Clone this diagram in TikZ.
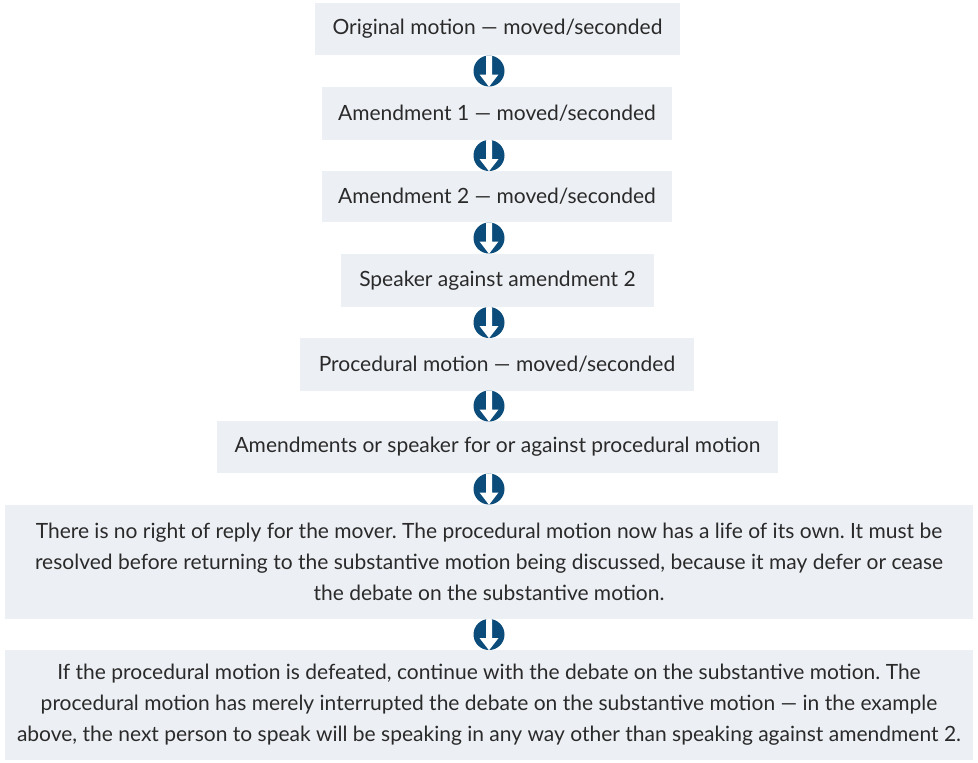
\documentclass[tikz,border=0pt]{standalone}
\usepackage{fontspec}
\setmainfont{Lato}
\usetikzlibrary{calc}
\definecolor{boxfill}{HTML}{ECEFF4}
\definecolor{iconblue}{HTML}{0B4C7A}
\definecolor{txt}{HTML}{2A2A2A}
\frenchspacing
\tikzset{
  stepbox/.style={fill=boxfill, draw=none, inner sep=0pt, text=txt, align=center,
    font=\fontsize{21}{31}\selectfont},
  downicon/.pic={
    \fill[iconblue] (0,0) circle (15.5);
    \begin{scope}
      \clip (0,0) circle (15.5);
      \fill[white] (-3,-17) -- (3,-17) -- (3,3.5) -- (9.5,3.5) -- (0,15.8) -- (-9.5,3.5) -- (-3,3.5) -- cycle;
    \end{scope}
  }
}
\begin{document}
\begin{tikzpicture}[x=1pt,y=-1pt]
\useasboundingbox (0,0) rectangle (978,763);
\coordinate (axis) at (489,0);
\node[stepbox, minimum width=365, minimum height=52] (b1) at (497.5,29) {Original motion — moved/seconded};
\node[stepbox, minimum width=350, minimum height=53] (b2) at (497,113.5) {Amendment 1 — moved/seconded};
\node[stepbox, minimum width=350, minimum height=51] (b3) at (497,196.5) {Amendment 2 — moved/seconded};
\node[stepbox, minimum width=313, minimum height=53] (b4) at (497.5,280.5) {Speaker against amendment 2};
\node[stepbox, minimum width=394, minimum height=53] (b5) at (497,364.5) {Procedural motion — moved/seconded};
\node[stepbox, minimum width=561, minimum height=52] (b6) at (497.5,447) {Amendments or speaker for or against procedural motion};
\node[stepbox, minimum width=968, minimum height=114] (b7) at (489,562) {There is no right of reply for the mover. The procedural motion now has a life of its own. It must be\\resolved before returning to the substantive motion being discussed, because it may defer or cease\\the debate on the substantive motion.};
\node[stepbox, minimum width=968, minimum height=110] (b8) at (489,705) {If the procedural motion is defeated, continue with the debate on the substantive motion. The\\procedural motion has merely interrupted the debate on the substantive motion — in the example\\above, the next person to speak will be speaking in any way other than speaking against amendment 2.};
\foreach \a/\b in {b1/b2,b2/b3,b3/b4,b4/b5,b5/b6,b6/b7,b7/b8}{
  \path (axis |- \a.south) -- (axis |- \b.north) pic[pos=0.5]{downicon};
}
\end{tikzpicture}
\end{document}
